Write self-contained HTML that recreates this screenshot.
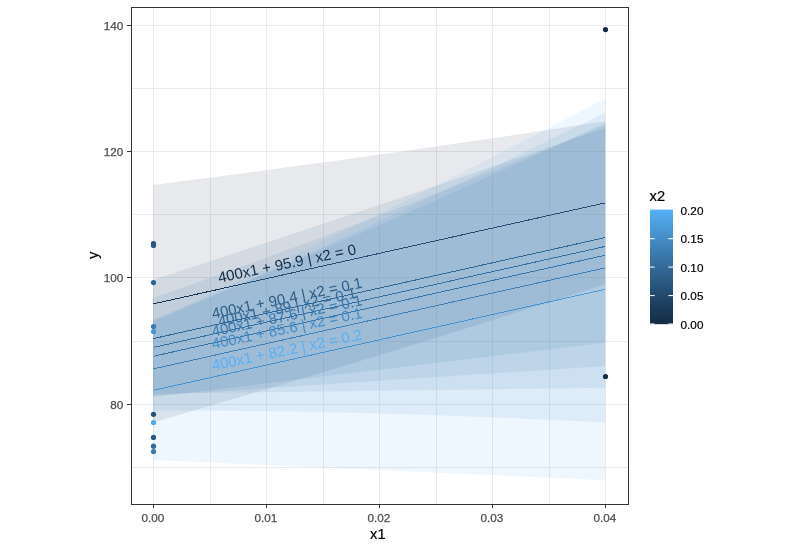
<!DOCTYPE html>
<html lang="en"><head><meta charset="utf-8"><title>Plot</title>
<style>html,body{margin:0;padding:0;background:#fff}svg{display:block}text{font-family:"Liberation Sans",Arial,sans-serif}.t{stroke:#4D4D4D;stroke-width:.25px}.b{stroke:#000;stroke-width:.2px}</style></head><body>
<svg width="797" height="549" viewBox="0 0 797 549">
<rect width="797" height="549" fill="#fff"/>
<defs><clipPath id="pc"><rect x="131.5" y="7.5" width="497.0" height="497.0"/></clipPath>
<linearGradient id="cb" x1="0" y1="0" x2="0" y2="1"><stop offset="0.000" stop-color="#56B1F7"/><stop offset="0.050" stop-color="#52AAED"/><stop offset="0.100" stop-color="#4FA2E3"/><stop offset="0.150" stop-color="#4B9BDA"/><stop offset="0.200" stop-color="#4894D0"/><stop offset="0.250" stop-color="#448DC6"/><stop offset="0.300" stop-color="#4186BD"/><stop offset="0.350" stop-color="#3D7FB4"/><stop offset="0.400" stop-color="#3A78AA"/><stop offset="0.450" stop-color="#3671A1"/><stop offset="0.500" stop-color="#336A98"/><stop offset="0.550" stop-color="#2F638F"/><stop offset="0.600" stop-color="#2C5D86"/><stop offset="0.650" stop-color="#29567D"/><stop offset="0.700" stop-color="#265075"/><stop offset="0.750" stop-color="#22496C"/><stop offset="0.800" stop-color="#1F4364"/><stop offset="0.850" stop-color="#1C3D5B"/><stop offset="0.900" stop-color="#193753"/><stop offset="0.950" stop-color="#16314B"/><stop offset="1.000" stop-color="#132B43"/></linearGradient></defs>
<g clip-path="url(#pc)">
<g shape-rendering="crispEdges" stroke="#EBEBEB" stroke-width="1">
<line x1="131.5" x2="628.5" y1="88.5" y2="88.5"/>
<line x1="131.5" x2="628.5" y1="214.5" y2="214.5"/>
<line x1="131.5" x2="628.5" y1="341.5" y2="341.5"/>
<line x1="131.5" x2="628.5" y1="467.5" y2="467.5"/>
<line x1="131.5" x2="628.5" y1="25.5" y2="25.5"/>
<line x1="131.5" x2="628.5" y1="151.5" y2="151.5"/>
<line x1="131.5" x2="628.5" y1="277.5" y2="277.5"/>
<line x1="131.5" x2="628.5" y1="404.5" y2="404.5"/>
<line y1="7.5" y2="504.5" x1="210.5" x2="210.5"/>
<line y1="7.5" y2="504.5" x1="323.5" x2="323.5"/>
<line y1="7.5" y2="504.5" x1="436.5" x2="436.5"/>
<line y1="7.5" y2="504.5" x1="549.5" x2="549.5"/>
<line y1="7.5" y2="504.5" x1="153.5" x2="153.5"/>
<line y1="7.5" y2="504.5" x1="266.5" x2="266.5"/>
<line y1="7.5" y2="504.5" x1="379.5" x2="379.5"/>
<line y1="7.5" y2="504.5" x1="492.5" x2="492.5"/>
<line y1="7.5" y2="504.5" x1="605.5" x2="605.5"/>
</g>
<g shape-rendering="crispEdges" stroke-width="1">
<line x1="153.5" y1="303.86" x2="605.2" y2="202.87" stroke="#132B43"/>
<line x1="153.5" y1="338.58" x2="605.2" y2="237.58" stroke="#2C5D86"/>
<line x1="153.5" y1="347.41" x2="605.2" y2="246.42" stroke="#336B99"/>
<line x1="153.5" y1="356.25" x2="605.2" y2="255.26" stroke="#3A79AB"/>
<line x1="153.5" y1="368.87" x2="605.2" y2="267.88" stroke="#448DC7"/>
<line x1="153.5" y1="390.33" x2="605.2" y2="289.34" stroke="#56B1F7"/>
</g>
<polygon points="153.0,185.0 171.8,182.6 190.7,180.1 209.5,177.7 228.4,175.2 247.2,172.7 266.1,170.2 284.9,167.6 303.7,165.1 322.6,162.5 341.4,159.9 360.3,157.2 379.1,154.6 397.9,151.9 416.8,149.2 435.6,146.5 454.5,143.8 473.3,141.0 492.2,138.3 511.0,135.5 529.8,132.7 548.7,129.8 567.5,127.0 586.4,124.1 605.2,121.2 605.2,284.2 586.4,290.3 567.5,296.3 548.7,302.4 529.8,308.3 511.0,314.3 492.2,320.2 473.3,326.2 454.5,332.0 435.6,337.9 416.8,343.7 397.9,349.5 379.1,355.3 360.3,361.0 341.4,366.8 322.6,372.4 303.7,378.1 284.9,383.7 266.1,389.3 247.2,394.9 228.4,400.5 209.5,406.0 190.7,411.5 171.8,417.0 153.0,422.4" fill="#132B43" fill-opacity="0.1"/>
<polygon points="153.0,280.0 171.8,273.8 190.7,267.6 209.5,261.4 228.4,255.2 247.2,249.0 266.1,242.8 284.9,236.5 303.7,230.2 322.6,223.9 341.4,217.6 360.3,211.3 379.1,205.0 397.9,198.7 416.8,192.3 435.6,185.9 454.5,179.6 473.3,173.2 492.2,166.8 511.0,160.3 529.8,153.9 548.7,147.4 567.5,141.0 586.4,134.5 605.2,128.0 605.2,342.6 586.4,344.9 567.5,347.1 548.7,349.4 529.8,351.7 511.0,353.9 492.2,356.2 473.3,358.5 454.5,360.7 435.6,363.0 416.8,365.3 397.9,367.5 379.1,369.8 360.3,372.1 341.4,374.3 322.6,376.6 303.7,378.9 284.9,381.1 266.1,383.4 247.2,385.7 228.4,387.9 209.5,390.2 190.7,392.5 171.8,394.7 153.0,397.0" fill="#2C5D86" fill-opacity="0.1"/>
<polygon points="153.0,298.0 171.8,291.4 190.7,284.8 209.5,278.1 228.4,271.4 247.2,264.6 266.1,257.8 284.9,250.8 303.7,243.9 322.6,236.9 341.4,229.8 360.3,222.7 379.1,215.5 397.9,208.3 416.8,201.0 435.6,193.6 454.5,186.2 473.3,178.8 492.2,171.2 511.0,163.7 529.8,156.1 548.7,148.4 567.5,140.6 586.4,132.8 605.2,125.0 605.2,366.0 586.4,367.2 567.5,368.5 548.7,369.7 529.8,370.9 511.0,372.2 492.2,373.4 473.3,374.6 454.5,375.9 435.6,377.1 416.8,378.3 397.9,379.6 379.1,380.8 360.3,382.0 341.4,383.3 322.6,384.5 303.7,385.7 284.9,387.0 266.1,388.2 247.2,389.4 228.4,390.7 209.5,391.9 190.7,393.1 171.8,394.4 153.0,395.6" fill="#336B99" fill-opacity="0.1"/>
<polygon points="153.0,319.5 171.8,312.0 190.7,304.3 209.5,296.7 228.4,289.0 247.2,281.2 266.1,273.4 284.9,265.5 303.7,257.6 322.6,249.6 341.4,241.5 360.3,233.4 379.1,225.2 397.9,217.0 416.8,208.8 435.6,200.4 454.5,192.1 473.3,183.6 492.2,175.1 511.0,166.6 529.8,158.0 548.7,149.3 567.5,140.6 586.4,131.8 605.2,123.0 605.2,387.8 586.4,388.0 567.5,388.3 548.7,388.5 529.8,388.8 511.0,389.0 492.2,389.2 473.3,389.5 454.5,389.7 435.6,390.0 416.8,390.2 397.9,390.5 379.1,390.7 360.3,390.9 341.4,391.2 322.6,391.4 303.7,391.7 284.9,391.9 266.1,392.2 247.2,392.4 228.4,392.6 209.5,392.9 190.7,393.1 171.8,393.4 153.0,393.6" fill="#3A79AB" fill-opacity="0.1"/>
<polygon points="153.0,322.0 171.8,313.9 190.7,305.8 209.5,297.6 228.4,289.3 247.2,281.0 266.1,272.6 284.9,264.2 303.7,255.7 322.6,247.2 341.4,238.6 360.3,229.9 379.1,221.2 397.9,212.4 416.8,203.6 435.6,194.8 454.5,185.8 473.3,176.8 492.2,167.8 511.0,158.7 529.8,149.6 548.7,140.3 567.5,131.1 586.4,121.8 605.2,112.4 605.2,422.6 586.4,421.6 567.5,420.7 548.7,419.8 529.8,418.9 511.0,418.1 492.2,417.3 473.3,416.6 454.5,415.9 435.6,415.2 416.8,414.6 397.9,414.0 379.1,413.5 360.3,413.0 341.4,412.6 322.6,412.2 303.7,411.8 284.9,411.5 266.1,411.2 247.2,411.0 228.4,410.8 209.5,410.6 190.7,410.5 171.8,410.4 153.0,410.4" fill="#448DC7" fill-opacity="0.1"/>
<polygon points="153.0,321.0 171.8,312.4 190.7,303.7 209.5,294.9 228.4,286.2 247.2,277.3 266.1,268.4 284.9,259.4 303.7,250.4 322.6,241.3 341.4,232.2 360.3,223.0 379.1,213.8 397.9,204.5 416.8,195.2 435.6,185.8 454.5,176.3 473.3,166.8 492.2,157.2 511.0,147.6 529.8,137.9 548.7,128.2 567.5,118.4 586.4,108.5 605.2,98.6 605.2,480.2 586.4,479.4 567.5,478.5 548.7,477.7 529.8,476.8 511.0,476.0 492.2,475.1 473.3,474.3 454.5,473.5 435.6,472.6 416.8,471.8 397.9,470.9 379.1,470.1 360.3,469.3 341.4,468.4 322.6,467.6 303.7,466.7 284.9,465.9 266.1,465.1 247.2,464.2 228.4,463.4 209.5,462.5 190.7,461.7 171.8,460.8 153.0,460.0" fill="#56B1F7" fill-opacity="0.1"/>
<circle cx="153.5" cy="243.6" r="2.6" fill="#265075"/>
<circle cx="153.5" cy="245.5" r="2.6" fill="#2A5A82"/>
<circle cx="153.5" cy="282.6" r="2.6" fill="#2F638F"/>
<circle cx="153.5" cy="326.6" r="2.6" fill="#3B7BAF"/>
<circle cx="153.5" cy="331.6" r="2.6" fill="#4997D5"/>
<circle cx="153.5" cy="414.3" r="2.6" fill="#275379"/>
<circle cx="153.5" cy="422.5" r="2.6" fill="#51A6E8"/>
<circle cx="153.5" cy="437.4" r="2.6" fill="#2A5A82"/>
<circle cx="153.5" cy="446.2" r="2.6" fill="#336A98"/>
<circle cx="153.5" cy="451.6" r="2.6" fill="#3B7BAF"/>
<circle cx="605.5" cy="29.6" r="2.6" fill="#132B43"/>
<circle cx="605.5" cy="376.5" r="2.6" fill="#132B43"/>
<text x="288.0" y="268.4" font-size="15.0" text-anchor="middle" fill="#132B43" transform="rotate(-11.8 288.0 268.4)">400x1 + 95.9 | x2 = 0</text>
<text x="288.0" y="303.1" font-size="15.0" text-anchor="middle" fill="#2C5D86" transform="rotate(-11.8 288.0 303.1)">400x1 + 90.4 | x2 = 0.1</text>
<text x="288.0" y="312.0" font-size="15.0" text-anchor="middle" fill="#336B99" transform="rotate(-11.8 288.0 312.0)">400x1 + 89 | x2 = 0.1</text>
<text x="288.0" y="320.8" font-size="15.0" text-anchor="middle" fill="#3A79AB" transform="rotate(-11.8 288.0 320.8)">400x1 + 87.6 | x2 = 0.1</text>
<text x="288.0" y="333.4" font-size="15.0" text-anchor="middle" fill="#448DC7" transform="rotate(-11.8 288.0 333.4)">400x1 + 85.6 | x2 = 0.1</text>
<text x="288.0" y="354.9" font-size="15.0" text-anchor="middle" fill="#56B1F7" transform="rotate(-11.8 288.0 354.9)">400x1 + 82.2 | x2 = 0.2</text>
</g>
<rect x="131.5" y="7.5" width="497.0" height="497.0" fill="none" stroke="#333" stroke-width="1" shape-rendering="crispEdges"/>
<g shape-rendering="crispEdges" stroke="#333" stroke-width="1">
<line x1="127" x2="131.5" y1="25.5" y2="25.5"/>
<line x1="127" x2="131.5" y1="151.5" y2="151.5"/>
<line x1="127" x2="131.5" y1="277.5" y2="277.5"/>
<line x1="127" x2="131.5" y1="404.5" y2="404.5"/>
<line y1="504.5" y2="508" x1="153.5" x2="153.5"/>
<line y1="504.5" y2="508" x1="266.5" x2="266.5"/>
<line y1="504.5" y2="508" x1="379.5" x2="379.5"/>
<line y1="504.5" y2="508" x1="492.5" x2="492.5"/>
<line y1="504.5" y2="508" x1="605.5" x2="605.5"/>
</g>
<text x="123.4" y="29.8" font-size="11.73" text-anchor="end" fill="#4D4D4D" class="t">140</text>
<text x="123.4" y="155.8" font-size="11.73" text-anchor="end" fill="#4D4D4D" class="t">120</text>
<text x="123.4" y="281.8" font-size="11.73" text-anchor="end" fill="#4D4D4D" class="t">100</text>
<text x="123.4" y="408.8" font-size="11.73" text-anchor="end" fill="#4D4D4D" class="t">80</text>
<text x="152.9" y="521.8" font-size="11.73" text-anchor="middle" fill="#4D4D4D" class="t">0.00</text>
<text x="265.9" y="521.8" font-size="11.73" text-anchor="middle" fill="#4D4D4D" class="t">0.01</text>
<text x="378.9" y="521.8" font-size="11.73" text-anchor="middle" fill="#4D4D4D" class="t">0.02</text>
<text x="491.9" y="521.8" font-size="11.73" text-anchor="middle" fill="#4D4D4D" class="t">0.03</text>
<text x="604.9" y="521.8" font-size="11.73" text-anchor="middle" fill="#4D4D4D" class="t">0.04</text>
<text x="377.8" y="539.2" font-size="14.67" text-anchor="middle" fill="#000" class="b">x1</text>
<text x="97.6" y="255.4" font-size="14.67" text-anchor="middle" fill="#000" class="b" transform="rotate(-90 97.6 255.4)">y</text>
<text x="649.6" y="201" font-size="14.67" fill="#000" class="b">x2</text>
<rect x="650.0" y="209.6" width="23.0" height="114.6" fill="url(#cb)"/>
<text x="680.6" y="214.9" font-size="11.73" fill="#000" class="b">0.20</text>
<line x1="650.0" x2="654.6" y1="238.65" y2="238.65" stroke="#fff" stroke-width="1.07"/>
<line x1="668.4" x2="673.0" y1="238.65" y2="238.65" stroke="#fff" stroke-width="1.07"/>
<text x="680.6" y="243.3" font-size="11.73" fill="#000" class="b">0.15</text>
<line x1="650.0" x2="654.6" y1="267.10" y2="267.10" stroke="#fff" stroke-width="1.07"/>
<line x1="668.4" x2="673.0" y1="267.10" y2="267.10" stroke="#fff" stroke-width="1.07"/>
<text x="680.6" y="271.8" font-size="11.73" fill="#000" class="b">0.10</text>
<line x1="650.0" x2="654.6" y1="295.55" y2="295.55" stroke="#fff" stroke-width="1.07"/>
<line x1="668.4" x2="673.0" y1="295.55" y2="295.55" stroke="#fff" stroke-width="1.07"/>
<text x="680.6" y="300.2" font-size="11.73" fill="#000" class="b">0.05</text>
<line x1="650.0" x2="654.6" y1="324.00" y2="324.00" stroke="#fff" stroke-width="1.07"/>
<line x1="668.4" x2="673.0" y1="324.00" y2="324.00" stroke="#fff" stroke-width="1.07"/>
<text x="680.6" y="328.7" font-size="11.73" fill="#000" class="b">0.00</text>
</svg></body></html>
